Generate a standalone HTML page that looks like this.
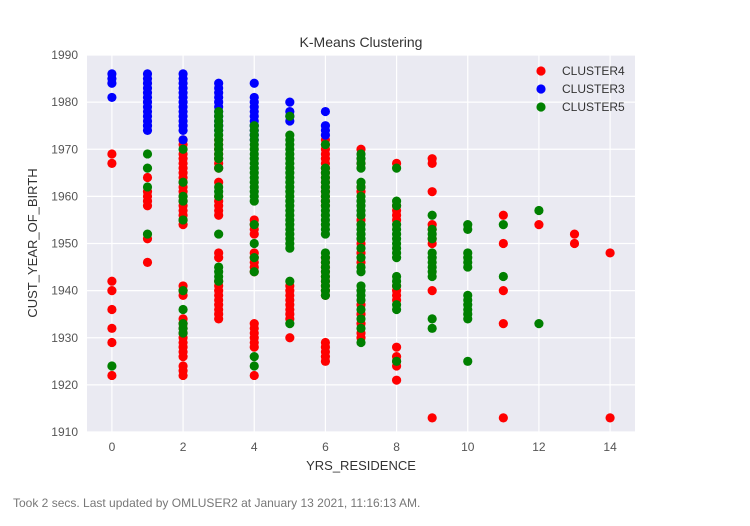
<!DOCTYPE html>
<html><head><meta charset="utf-8"><style>
body{margin:0;background:#fff;width:750px;height:526px;overflow:hidden;font-family:"Liberation Sans",sans-serif}
#foot{position:absolute;left:13px;top:496px;font-size:12px;color:#777}
</style></head><body>
<svg id="chart" width="750" height="526" style="position:absolute;left:0;top:0" font-family="Liberation Sans, sans-serif">
<text x="361" y="47" text-anchor="middle" font-size="14" fill="#333">K-Means Clustering</text>
<text x="361" y="470" text-anchor="middle" font-size="13" fill="#333">YRS_RESIDENCE</text>
<text transform="translate(37,243) rotate(-90)" text-anchor="middle" font-size="13" fill="#333">CUST_YEAR_OF_BIRTH</text>
<g id="plot"></g>
</svg>
<div id="foot">Took 2 secs. Last updated by OMLUSER2 at January 13 2021, 11:16:13 AM.</div>
<script>
const xTicks=[0,2,4,6,8,10,12,14];
const yTicks=[1910,1920,1930,1940,1950,1960,1970,1980,1990];
const seriesNames=["CLUSTER4","CLUSTER3","CLUSTER5"];
const seriesColors=["#ff0000","#0000ff","#008000"];
// years per YRS_RESIDENCE value (index = x)
const cluster4=[
[1969,1967,1942,1940,1936,1932,1929,1922],
[1964,1961,1960,1959,1958,1951,1946],
[1972,1971,1969,1968,1967,1966,1965,1964,1963,1962,1961,1960,1959,1958,1957,1956,1955,1954,1941,1940,1939,1934,1933,1932,1931,1930,1929,1928,1927,1926,1924,1923,1922],
[1972,1971,1970,1969,1968,1967,1966,1963,1960,1959,1958,1957,1956,1948,1947,1942,1941,1940,1939,1938,1937,1936,1935,1934],
[1955,1954,1953,1952,1948,1947,1946,1945,1944,1933,1932,1931,1930,1929,1928,1922],
[1941,1940,1939,1938,1937,1936,1935,1934,1930],
[1972,1971,1970,1969,1968,1967,1966,1965,1964,1963,1962,1961,1960,1959,1958,1947,1946,1945,1944,1943,1942,1941,1940,1939,1929,1928,1927,1926,1925],
[1970,1967,1962,1961,1955,1950,1948,1946,1937,1935,1933,1931,1930],
[1967,1958,1957,1956,1955,1941,1940,1939,1938,1928,1926,1925,1924,1921],
[1968,1967,1961,1954,1953,1951,1950,1940,1913],
[],
[1956,1950,1940,1933,1913],
[1954],
[1952,1950],
[1948,1913]];
const cluster3=[
[1986,1985,1984,1981],
[1986,1985,1984,1983,1982,1981,1980,1979,1978,1977,1976,1975,1974],
[1986,1985,1984,1983,1982,1981,1980,1979,1978,1977,1976,1975,1974,1972],
[1984,1983,1982,1981,1980,1979,1978,1977,1976,1975,1974],
[1984,1981,1980,1979,1978,1977,1976,1975,1974,1973,1972],
[1980,1978,1977,1976],
[1978,1975,1974,1973]];
const cluster5=[
[1924],
[1969,1966,1962,1952],
[1970,1963,1960,1959,1955,1940,1936,1933,1932,1931],
[1978,1977,1976,1975,1974,1973,1972,1971,1970,1969,1968,1966,1962,1961,1960,1952,1945,1944,1943,1942],
[1975,1974,1973,1972,1971,1970,1969,1968,1967,1966,1965,1964,1963,1962,1961,1960,1959,1954,1950,1947,1944,1926,1924],
[1977,1973,1972,1971,1970,1969,1968,1967,1966,1965,1964,1963,1962,1961,1960,1959,1958,1957,1956,1955,1954,1953,1952,1951,1950,1949,1942,1933],
[1971,1966,1965,1964,1963,1962,1961,1960,1959,1958,1957,1956,1955,1954,1953,1952,1948,1947,1946,1945,1944,1943,1942,1941,1940,1939],
[1969,1968,1967,1966,1963,1962,1960,1959,1958,1957,1956,1954,1953,1952,1951,1949,1947,1945,1944,1941,1940,1939,1938,1936,1934,1932,1929],
[1966,1959,1958,1954,1953,1952,1951,1950,1949,1948,1947,1943,1942,1941,1937,1936,1925],
[1956,1953,1952,1951,1948,1947,1946,1945,1944,1943,1934,1932],
[1954,1953,1948,1947,1946,1945,1939,1938,1937,1936,1935,1934,1925],
[1954,1943],
[1957,1933]];

const NS="http://www.w3.org/2000/svg";
const L=87,R=635,T=55,B=432,xMin=-0.7,xMax=14.7,yMin=1910,yMax=1990;
function sx(v){return L+(v-xMin)/(xMax-xMin)*(R-L);}
function sy(v){return B-(v-yMin)/(yMax-yMin)*(B-T);}
const g=document.getElementById('plot');
function mk(tag,attrs,parent){const e=document.createElementNS(NS,tag);for(const k in attrs)e.setAttribute(k,attrs[k]);(parent||g).appendChild(e);return e;}
const bg=mk('rect',{x:L,y:T,width:R-L,height:B-T,fill:'#eaeaf2'});


xTicks.forEach(t=>{
 const l=mk('line',{x1:sx(t),x2:sx(t),y1:T,y2:B,stroke:'#fff','stroke-width':1.2});
 
 
 const tx=mk('text',{x:sx(t),y:B+19,'text-anchor':'middle','font-size':12,fill:'#555'});
 tx.textContent=t;
 
 
});
yTicks.forEach(t=>{
 const l=mk('line',{x1:L,x2:R,y1:sy(t),y2:sy(t),stroke:'#fff','stroke-width':1.2});
 
 
 const tx=mk('text',{x:L-9,y:sy(t)+4,'text-anchor':'end','font-size':12,fill:'#555'});
 tx.textContent=t;
 
 
});
[cluster4,cluster3,cluster5].forEach((cl,si)=>{
 const grp=mk('g',{});
 
 
 cl.forEach((ys,x)=>ys.forEach(y=>{
  const c=mk('circle',{cx:sx(x),cy:sy(y),r:4.6,fill:seriesColors[si]},grp);
  
  
 }));
});
seriesNames.forEach((n,i)=>{
 const lg=mk('g',{});
 
 
 mk('circle',{cx:541,cy:71+i*18,r:4.6,fill:seriesColors[i]},lg);
 const t=mk('text',{x:562,y:75+i*18,'font-size':12,fill:'#333'},lg);
 t.textContent=n;
});
</script>
</body></html>
